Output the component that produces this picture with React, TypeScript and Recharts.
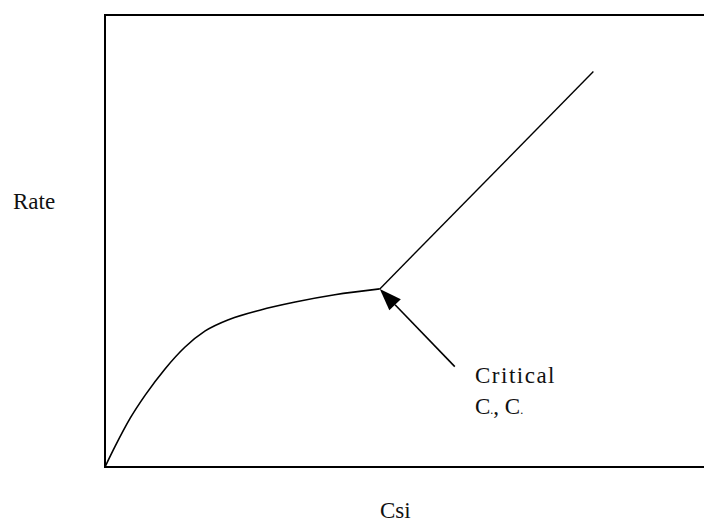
import React from "react";
import { LineChart, Line, XAxis, YAxis, ReferenceArea, ReferenceLine, Label } from "recharts";

// rate vs concentration, rising curve up to the critical point
const curveX = [0, 1.7, 4.2, 6.7, 10, 13.3, 16.7, 20.8, 25.8, 31.7, 38.3, 45.8];
const curveY = [0, 4.6, 10.8, 15.9, 21.7, 26.5, 30.1, 32.7, 34.7, 36.5, 38.1, 39.4];

// straight branch above the critical point
const lineX = [45.8, 81.4];
const lineY = [39.4, 87.5];

// arrow from the label to the critical point
const arrowFrom = { x: 58.3, y: 22.2 };
const arrowTo = { x: 45.8, y: 39.4 };

const curveData = curveX.map((x, i) => ({ x, y: curveY[i] }));
const lineData = lineX.map((x, i) => ({ x, y: lineY[i] }));

const font = "'Liberation Serif', 'Times New Roman', serif";

const Arrow = (props: any) => {
  const { x1, y1, x2, y2 } = props;
  const dx = x1 - x2;
  const dy = y1 - y2;
  const len = Math.sqrt(dx * dx + dy * dy);
  const ux = dx / len;
  const uy = dy / len;
  const head = 22;
  const half = 8;
  const bx = x2 + ux * head;
  const by = y2 + uy * head;
  const pts = `${x2},${y2} ${bx - uy * half},${by + ux * half} ${bx + uy * half},${by - ux * half}`;
  return (
    <g>
      <line x1={x1} y1={y1} x2={bx} y2={by} stroke="#000" strokeWidth={1.6} />
      <polygon points={pts} fill="#000" />
    </g>
  );
};

const Texts = (props: any) => {
  const { x, y } = props.viewBox;
  return (
    <g fontFamily={font} fontSize={23} fill="#111">
      <text x={x - 92} y={y + 194}>Rate</text>
      <text x={x + 275} y={y + 503}>Csi</text>
      <text x={x + 370} y={y + 368} letterSpacing={1.5}>Critical</text>
      <text x={x + 370} y={y + 399}>
        C<tspan fontSize={12}>.</tspan>, C<tspan fontSize={12}>.</tspan>
      </text>
    </g>
  );
};

export default function App() {
  return (
    <div style={{ position: "absolute", left: 0, top: 0, width: 704, height: 522, overflow: "hidden", background: "#fff" }}>
      <LineChart width={712} height={522} margin={{ top: 15, right: 7, bottom: 55, left: 105 }}>
        <XAxis type="number" dataKey="x" domain={[0, 100]} hide allowDataOverflow />
        <YAxis type="number" dataKey="y" domain={[0, 100]} hide allowDataOverflow />
        <ReferenceArea x1={0} x2={100} y1={0} y2={100} fill="none" stroke="#000" strokeWidth={2} fillOpacity={0}>
          <Label content={Texts} />
        </ReferenceArea>
        <Line data={curveData} dataKey="y" type="monotone" stroke="#000" strokeWidth={1.6} dot={false} isAnimationActive={false} />
        <Line data={lineData} dataKey="y" type="linear" stroke="#000" strokeWidth={1.4} dot={false} isAnimationActive={false} />
        <ReferenceLine segment={[arrowFrom, arrowTo]} stroke="#000" shape={Arrow} />
      </LineChart>
    </div>
  );
}
